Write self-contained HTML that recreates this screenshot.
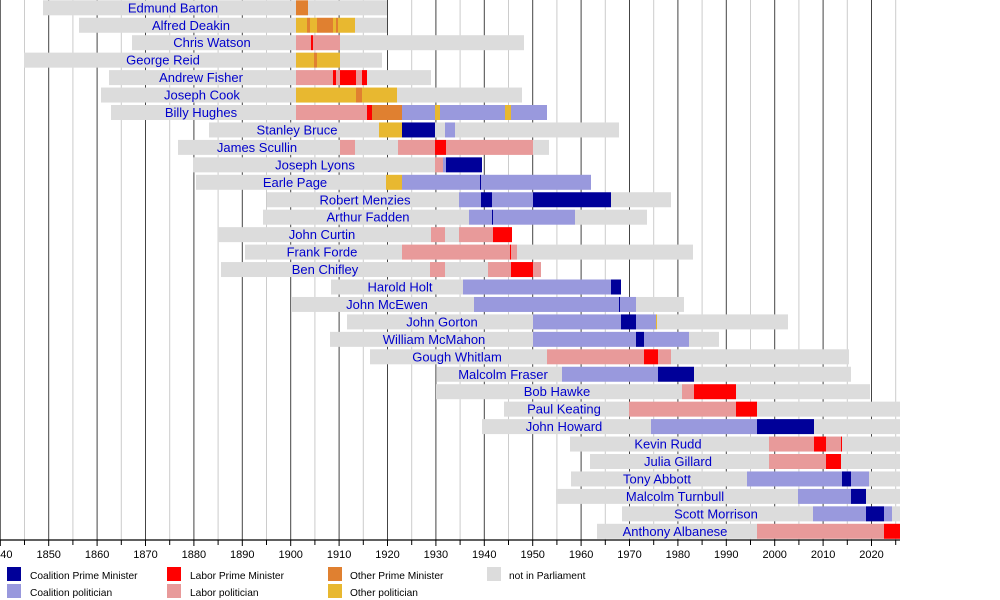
<!DOCTYPE html>
<html><head><meta charset="utf-8"><style>body{margin:0;background:#fff}svg{display:block}</style></head>
<body>
<svg id="s" width="1000" height="600" xmlns="http://www.w3.org/2000/svg" font-family="Liberation Sans, sans-serif">
<g id="grid"></g><g id="bars"></g><g id="axis"></g>
<g font-size="10.2" fill="#000">
<rect x="7" y="567" width="14" height="14" fill="#000099"/><text x="30" y="579">Coalition Prime Minister</text>
<rect x="7" y="584" width="14" height="14" fill="#9999dd"/><text x="30" y="596">Coalition politician</text>
<rect x="167" y="567" width="14" height="14" fill="#ff0000"/><text x="190" y="579">Labor Prime Minister</text>
<rect x="167" y="584" width="14" height="14" fill="#e89a9a"/><text x="190" y="596">Labor politician</text>
<rect x="328" y="567" width="14" height="14" fill="#e08030"/><text x="350" y="579">Other Prime Minister</text>
<rect x="328" y="584" width="14" height="14" fill="#e8b830"/><text x="350" y="596">Other politician</text>
<rect x="487" y="567" width="14" height="14" fill="#dcdcdc"/><text x="509" y="579">not in Parliament</text>
</g>
</svg>
<script>
var C={g:"#dcdcdc",n:"#000099",c:"#9999dd",r:"#ff0000",l:"#e89a9a",o:"#e08030",y:"#e8b830"};
var rows=[
["Edmund Barton",173,[43,"g",296,"o",308,"g",387]],
["Alfred Deakin",191,[79,"g",296,"y",307,"o",310,"y",317,"o",333,"y",336,"o",338,"y",355,"g",387]],
["Chris Watson",212,[132,"g",296,"l",311,"r",313,"l",340,"g",524]],
["George Reid",163,[24,"g",296,"y",314,"o",317,"y",340,"g",382]],
["Andrew Fisher",201,[109,"g",296,"l",333,"r",336,"l",340,"r",356,"l",362,"r",367,"g",431]],
["Joseph Cook",202,[101,"g",296,"y",356,"o",362,"y",397,"g",522]],
["Billy Hughes",201,[111,"g",296,"l",367,"r",372,"o",402,"c",435,"y",440,"c",505,"y",511,"c",547]],
["Stanley Bruce",297,[209,"g",379,"y",402,"n",435,"g",445,"c",455,"g",619]],
["James Scullin",257,[178,"g",340,"l",355,"g",398,"l",435,"r",446,"l",533,"g",549]],
["Joseph Lyons",315,[193,"g",435,"l",443,"c",446,"n",482]],
["Earle Page",295,[196,"g",386,"y",402,"c",480,"n",481.2,"c",591]],
["Robert Menzies",365,[267,"g",459,"c",481,"n",492,"c",533,"n",611,"g",671]],
["Arthur Fadden",368,[263,"g",469,"c",492,"n",493,"c",575,"g",647]],
["John Curtin",322,[218,"g",431,"l",445,"g",459,"l",493,"r",512]],
["Frank Forde",322,[245,"g",402,"l",510,"r",511,"l",517,"g",693]],
["Ben Chifley",325,[221,"g",430,"l",445,"g",488,"l",511,"r",533,"l",541]],
["Harold Holt",400,[331,"g",463,"c",611,"n",621]],
["John McEwen",387,[292,"g",474,"c",619,"n",620,"c",636,"g",684]],
["John Gorton",442,[347,"g",533,"c",621,"n",636,"c",656,"y",657,"g",788]],
["William McMahon",434,[330,"g",533,"c",636,"n",644,"c",689,"g",719]],
["Gough Whitlam",457,[370,"g",547,"l",644,"r",658,"l",671,"g",849]],
["Malcolm Fraser",503,[437,"g",562,"c",658,"n",694,"g",851]],
["Bob Hawke",557,[436,"g",682,"l",694,"r",736,"g",870]],
["Paul Keating",564,[504,"g",629,"l",736,"r",757,"g",900]],
["John Howard",564,[482,"g",651,"c",757,"n",814,"g",900]],
["Kevin Rudd",668,[570,"g",769,"l",814,"r",826,"l",841,"r",842,"g",900]],
["Julia Gillard",678,[590,"g",769,"l",826,"r",841,"g",900]],
["Tony Abbott",657,[571,"g",747,"c",842,"n",851,"c",869,"g",900]],
["Malcolm Turnbull",675,[556,"g",798,"c",851,"n",866,"g",900]],
["Scott Morrison",716,[622,"g",813,"c",866,"n",884,"c",892,"g",900]],
["Anthony Albanese",675,[597,"g",757,"l",884,"r",900]]];
var NS="http://www.w3.org/2000/svg";
function el(p,t,a,txt){var e=document.createElementNS(NS,t);for(var k in a)e.setAttribute(k,a[k]);if(txt)e.textContent=txt;document.getElementById(p).appendChild(e);}
function X(y){return 48.7+(y-1850)*4.84;}
for(var yr=1840;yr<=2025;yr+=5){var x=X(yr);var maj=yr%10==0;
el("grid","line",{x1:x,x2:x,y1:0,y2:540,stroke:maj?"#444":"#ccc","stroke-width":1});
el("axis","line",{x1:x,x2:x,y1:540,y2:maj?546:545,stroke:"#000","stroke-width":1});
if(maj)el("axis","text",{x:x,y:558,"font-size":"11","text-anchor":"middle",fill:"#000"},String(yr));}
el("axis","line",{x1:0,x2:900,y1:540,y2:540,stroke:"#000","stroke-width":1.2});
rows.forEach(function(r,i){var top=0.3+i*17.45,s=r[2];
for(var j=0;j+2<s.length;j+=2){el("bars","rect",{x:s[j],y:top,width:s[j+2]-s[j],height:15,fill:C[s[j+1]]});}
el("bars","text",{x:r[1],y:top+12,"font-size":"13","text-anchor":"middle",fill:"#0000cc"},r[0]);});
</script>
</body></html>
